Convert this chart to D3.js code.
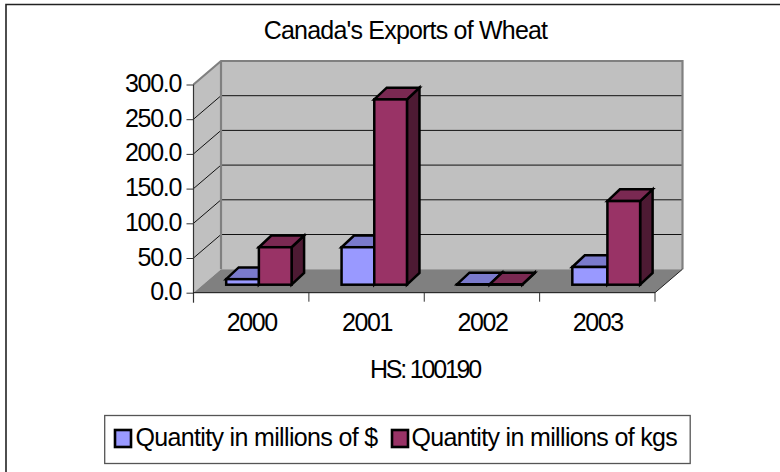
<!DOCTYPE html>
<html><head><meta charset="utf-8">
<script src="https://cdn.jsdelivr.net/npm/d3@7/dist/d3.min.js"></script>
<style>
html,body{margin:0;padding:0;background:#fff}
svg{display:block}
text{font-family:"Liberation Sans",Arial,sans-serif;fill:#000}
</style></head><body>
<script>
const categories = ["2000","2001","2002","2003"];
const seriesNames = ["Quantity in millions of $","Quantity in millions of kgs"];
const dollars = [8,54,0.5,25.5];
const kgs = [54,267,0.5,120.5];
const yTicks = [0,50,100,150,200,250,300];
const titleText = "Canada's Exports of Wheat";
const xTitle = "HS: 100190";
const seriesValues = [dollars,kgs];
const fills = ["#9999ff","#993366"];
const tops = ["#7a7acc","#7a2952"];
const sides = ["#4d4d80","#4d1a33"];

const W=780,H=472;
const svg=d3.select("body").append("svg").attr("width",W).attr("height",H);
svg.append("rect").attr("width",W).attr("height",H).attr("fill","#fff");
svg.append("path").attr("d","M6,472V4.5H780").attr("fill","none").attr("stroke","#222").attr("stroke-width",1.6);

const x0=193.5,x1=655,dx=27.5,dy=-23.5;
const y=d3.scaleLinear().domain([0,300]).range([292.7,84.5]);
const x=d3.scaleBand().domain(categories).range([x0,x1]);
const inner=d3.scaleBand().domain([0,1]).range([0,65.4]);
const yB=y(0),yT=y(300);
const g=svg.append("g");

g.append("path").attr("d",`M${x0},${yB}V${yT}L${x0+dx},${yT+dy}V${yB+dy}Z`).attr("fill","#c0c0c0");
g.append("rect").attr("x",x0+dx).attr("y",yT+dy).attr("width",x1-x0).attr("height",yB-yT).attr("fill","#c0c0c0");
g.append("path").attr("d",`M${x0},${yB}H${x1}L${x1+dx},${yB+dy}H${x0+dx}Z`).attr("fill","#808080");
g.selectAll(".grid").data(yTicks.filter(d=>d>0&&d<300)).join("path").attr("class","grid")
  .attr("d",d=>`M${x0},${y(d)}L${x0+dx},${y(d)+dy}H${x1+dx}`)
  .attr("fill","none").attr("stroke","#111").attr("stroke-width",1);
g.append("path").attr("d",`M${x0},${yT}L${x0+dx},${yT+dy}H${x1+dx}V${yB+dy}`).attr("fill","none").attr("stroke","#808080").attr("stroke-width",2.2);
g.append("path").attr("d",`M${x0+dx},${yT+dy}V${yB+dy}`).attr("fill","none").attr("stroke","#808080").attr("stroke-width",2.2);
g.append("path").attr("d",`M${x1},${yB}L${x1+dx},${yB+dy}`).attr("fill","none").attr("stroke","#222").attr("stroke-width",1);

// bars
const offX=7.7,offBase=8,bdx=12.5,bdy=-11.7,lastGroupStretch=2.4;
categories.forEach((c,i)=>{
  seriesValues.forEach((vals,s)=>{
    const stretch=i===categories.length-1?lastGroupStretch:0;
    const bw=inner.bandwidth()+(s===0?stretch:0);
    const bx=x(c)+(x.bandwidth()-65.4)/2+offX+inner(s)+(s===1?stretch:0);
    const base=y(0)-offBase, top=base-(y(0)-y(vals[i]));
    const b=svg.append("g").attr("stroke","#000").attr("stroke-width",2.5).attr("stroke-linejoin","miter");
    b.append("path").attr("d",`M${bx+bw},${base}V${top}L${bx+bw+bdx},${top+bdy}V${base+bdy}Z`).attr("fill",sides[s]);
    b.append("path").attr("d",`M${bx},${top}L${bx+bdx},${top+bdy}H${bx+bw+bdx}L${bx+bw},${top}Z`).attr("fill",tops[s]);
    b.append("rect").attr("x",bx).attr("y",top).attr("width",bw).attr("height",base-top).attr("fill",fills[s]);
  });
});

// axes
const yAxis=d3.axisLeft(y).tickValues(yTicks).tickFormat(d3.format(".1f")).tickSize(7).tickPadding(5.5);
const ya=svg.append("g").attr("transform",`translate(${x0},0)`).call(yAxis);
ya.select(".domain").attr("stroke","#333").attr("stroke-width",1.2).attr("d",`M0,${yT}V${yB+10}`);
ya.selectAll(".tick line").attr("stroke","#333");
ya.selectAll("text").attr("font-size",25).attr("letter-spacing",-1.3).attr("font-family",null).attr("dy","0.28em");

const xAxis=d3.axisBottom(x).tickSize(0).tickPadding(20.5);
const xa=svg.append("g").attr("transform",`translate(0.5,${yB})`).call(xAxis);
xa.select(".domain").remove();
xa.selectAll("text").attr("font-size",25).attr("letter-spacing",-1.4).attr("font-family",null);
svg.append("line").attr("x1",x0).attr("x2",x1).attr("y1",yB).attr("y2",yB).attr("stroke","#111").attr("stroke-width",1);
svg.selectAll(".xt").data(categories.slice(1).map(c=>x(c)).concat([x1])).join("line").attr("class","xt")
  .attr("x1",d=>d).attr("x2",d=>d).attr("y1",yB).attr("y2",yB+9).attr("stroke","#333").attr("stroke-width",1);

svg.append("text").attr("x",405.5).attr("y",39).attr("text-anchor","middle").attr("font-size",25).attr("letter-spacing",-0.8).text(titleText);
svg.append("text").attr("x",425).attr("y",378).attr("text-anchor","middle").attr("font-size",25).attr("letter-spacing",-2.2).text(xTitle);

// legend
svg.append("rect").attr("x",104.7).attr("y",415.5).attr("width",585.5).attr("height",48).attr("fill","#fff").attr("stroke","#555").attr("stroke-width",1.3);
const lg=[{sx:115,tx:135.5},{sx:392,tx:411.5}];
seriesNames.forEach((n,i)=>{
  svg.append("rect").attr("x",lg[i].sx).attr("y",430).attr("width",16).attr("height",17).attr("fill",fills[i]).attr("stroke","#000").attr("stroke-width",2.6);
  svg.append("text").attr("x",lg[i].tx).attr("y",445.5).attr("font-size",25).attr("letter-spacing",-0.66).text(n);
});
</script></body></html>
